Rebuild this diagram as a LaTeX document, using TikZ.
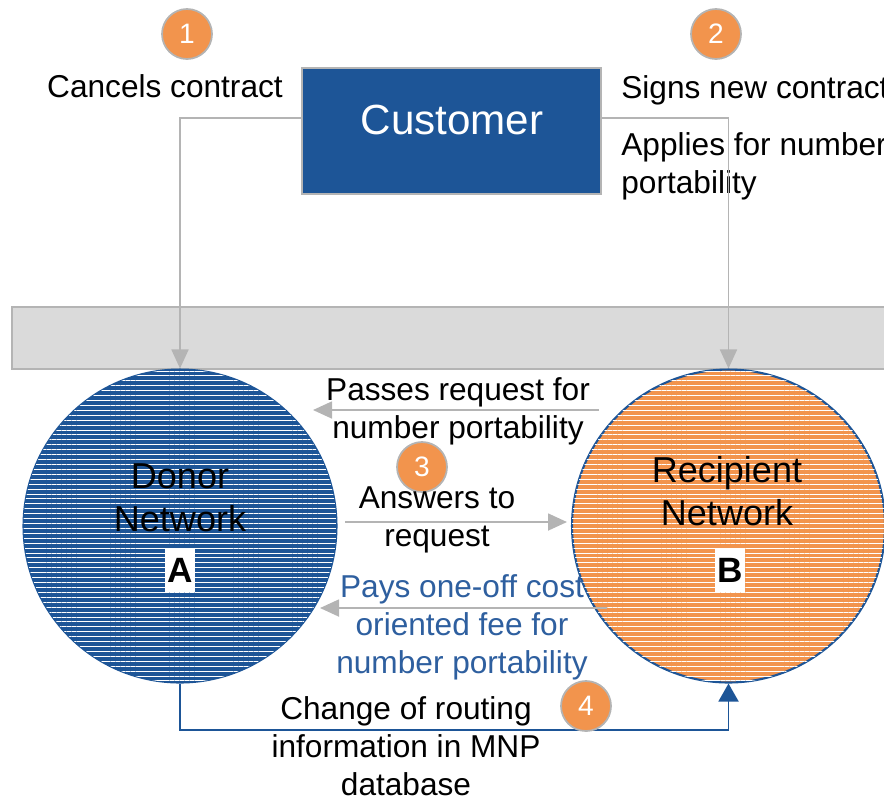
\documentclass[tikz,border=0pt]{standalone}
\usepackage{fontspec}
\setmainfont{Liberation Sans}
\usetikzlibrary{positioning,arrows.meta,patterns.meta}
\definecolor{mnpblue}{HTML}{1D5597}
\definecolor{mnporange}{HTML}{F2944D}
\definecolor{mnpgrey}{HTML}{B4B4B4}
\definecolor{bandgrey}{HTML}{DADADA}
\definecolor{feeblue}{HTML}{2E5F9F}

\begin{document}
\begin{tikzpicture}[
    x=0.02cm, y=-0.02cm,
    txt/.style = {font=\fontsize{18}{21.6}\selectfont, align=center, inner sep=0pt},
    badge/.style = {circle, draw=mnpgrey, line width=1pt, fill=mnporange, minimum size=1cm, inner sep=0pt, text=white, font=\fontsize{16}{16}\selectfont},
    network/.style = {circle, draw=mnpblue, line width=1.2pt, minimum size=6.26cm, inner sep=0pt, postaction={pattern color=white, pattern={Lines[angle=0,distance=2.8pt,line width=0.55pt]}}},
    nettxt/.style = {font=\fontsize{20.5}{24.5}\selectfont, align=center, inner sep=0pt},
    letter/.style = {fill=white, font=\bfseries\fontsize{20}{20}\selectfont, inner sep=1.5pt, minimum height=0.88cm},
    custbox/.style = {rectangle, draw=mnpgrey, line width=1pt, fill=mnpblue, minimum width=5.98cm, minimum height=2.52cm},
    band/.style = {rectangle, draw=mnpgrey, line width=1pt, fill=bandgrey, minimum width=17.66cm, minimum height=1.24cm},
    greyarrow/.style = {draw=mnpgrey, line width=1pt, -{Triangle[length=0.38cm,width=0.34cm]}},
    bluearrow/.style = {draw=mnpblue, line width=1.1pt, -{Triangle[length=0.36cm,width=0.4cm]}}
]
    \useasboundingbox (0,0) rectangle (884,799);

    % customer and grey band
    \node[band] (band) at (453.5,338) {};
    \node[custbox] (cust) at (451.5,131) {};
    \node[txt, text=white, font=\fontsize{24}{28}\selectfont] (custlbl) at (452,120) {Customer};

    % the two networks
    \node[network, fill=mnpblue] (donor) at (180,526) {};
    \node[network, fill=mnporange] (recip) at (728.5,526) {};
    \node[nettxt] (donorlbl) at (180,498) {Donor\\Network};
    \node[letter] (a) at (180,570) {A};
    \node[nettxt] (reciplbl) at (727,491) {Recipient\\Network};
    \node[letter] (b) at (730,570) {B};

    % steps 1 and 2
    \node[badge] (s1) at (187,34) {1};
    \node[badge] (s2) at (716,34) {2};
    \node[txt] (cancel) at (165,86) {Cancels contract};
    \node[txt, anchor=west] (signs) at (621,90) {Signs new contract};
    \node[txt, anchor=west, align=left] (applies) at (621,166) {Applies for number\\portability};
    \draw[greyarrow] ([yshift=0.26cm]cust.west) -| (donor.north);
    \draw[greyarrow] ([yshift=0.26cm]cust.east) -| (recip.north);

    % step 3
    \coordinate (passR) at (599,410);
    \coordinate (passL) at (313,410);
    \coordinate (ansL) at (345,522);
    \coordinate (ansR) at (567,522);
    \coordinate (payR) at (607,608);
    \coordinate (payL) at (320,608);
    \draw[greyarrow] (passR) -- (passL);
    \draw[greyarrow] (ansL) -- (ansR);
    \draw[greyarrow] (payR) -- (payL);
    \node[txt] (passes) at (458,411) {Passes request for\\number portability};
    \node[badge] (s3) at (422,467) {3};
    \node[txt] (answers) at (437,520) {Answers to\\request};
    \node[txt, text=feeblue] (pays) at (462,627) {Pays one-off cost\\oriented fee for\\number portability};

    % step 4
    \draw[bluearrow] (donor.south) -- ++(0,46) -| (recip.south);
    \node[badge] (s4) at (586,706) {4};
    \node[txt] (routing) at (406,746) {Change of routing\\information in MNP\\database};
\end{tikzpicture}
\end{document}
